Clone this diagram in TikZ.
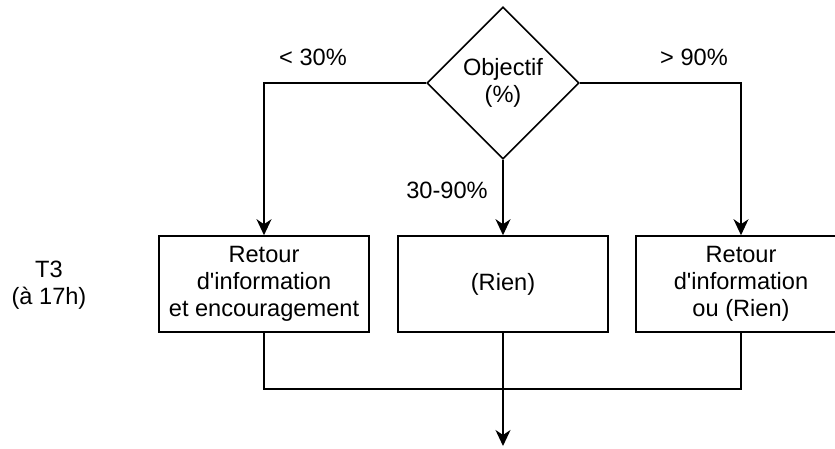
\documentclass[tikz,border=0pt]{standalone}
\usepackage{fontspec}
\setmainfont{Liberation Sans}[Ligatures=TeXOff]
\usetikzlibrary{shapes.geometric,arrows.meta}
\begin{document}
\begin{tikzpicture}[x=1pt,y=-1pt,
  every node/.style={font=\fontsize{23.6}{27}\selectfont, align=center, inner sep=0pt},
  box/.style={draw, line width=1.6pt, minimum width=210pt, minimum height=96pt},
  dia/.style={draw, diamond, aspect=1, line width=1.6pt, minimum width=152pt, minimum height=152pt},
  link/.style={line width=1.6pt},
  arr/.style={link, -{Stealth[length=16pt,width=15pt,inset=5pt]}}]
\useasboundingbox (0,0) rectangle (835,448);
\clip (0,0) rectangle (835,448);
\node[dia] (d) at (503,83) {Objectif\\(\%)};
\node[box] (b1) at (264,284) {Retour\\d'information\\et encouragement};
\node[box] (b2) at (503,284) {(Rien)};
\node[box] (b3) at (741,284) {Retour\\d'information\\ou (Rien)};
\node (t3) at (49,285) {T3\\(à 17h)};
\node (l1) at (313,57) {< 30\%};
\node (l3) at (694,57) {> 90\%};
\node (l2) at (447,190) {30-90\%};
\coordinate (j) at (503,389);
\coordinate (e) at (503,446);
\draw[arr] (d.west) -| (b1.north);
\draw[arr] (d.east) -| (b3.north);
\draw[arr] (d.south) -- (b2.north);
\draw[link] (b1.south) |- (j);
\draw[link] (b3.south) |- (j);
\draw[arr] (b2.south) -- (e);
\end{tikzpicture}
\end{document}
